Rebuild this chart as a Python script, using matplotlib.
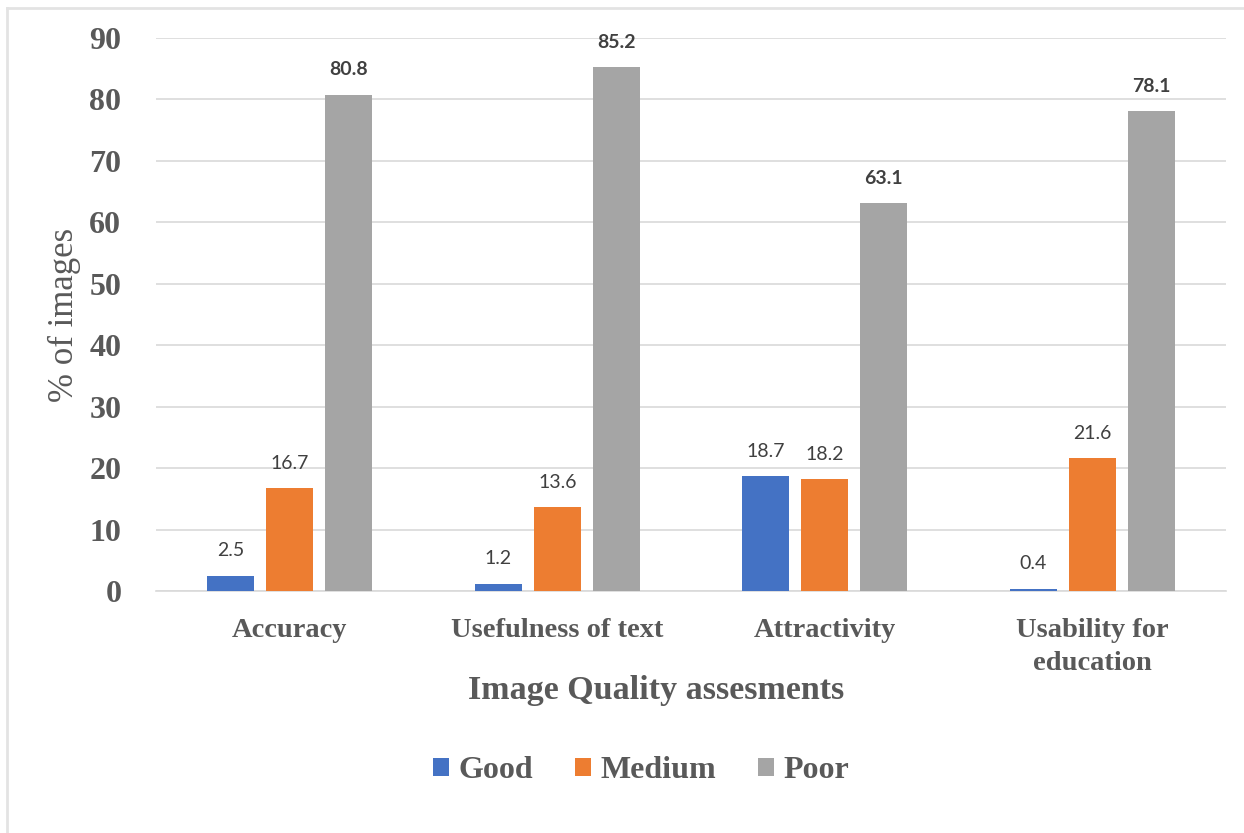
import matplotlib
matplotlib.use("Agg")
import matplotlib.pyplot as plt
from matplotlib.lines import Line2D
from matplotlib.patches import Patch
import numpy as np

categories = ["Accuracy", "Usefulness of text", "Attractivity", "Usability for\neducation"]
series_names = ["Good", "Medium", "Poor"]
good = [2.5, 1.2, 18.7, 0.4]
medium = [16.7, 13.6, 18.2, 21.6]
poor = [80.8, 85.2, 63.1, 78.1]
y_ticks = [0, 10, 20, 30, 40, 50, 60, 70, 80, 90]

colors = ["#4472C4", "#ED7D31", "#A5A5A5"]
text_gray = "#595959"
grid_gray = "#D9D9D9"
serif = "Liberation Serif"

W, H = 1244, 833
fig = plt.figure(figsize=(W / 100, H / 100), dpi=100)
fig.patch.set_facecolor("white")

ax = fig.add_axes([156 / W, 1 - 591 / H, (1226 - 156) / W, (591 - 38) / H])

x = np.arange(len(categories))
width = 0.176
step = 0.221
values = [good, medium, poor]
for i, (vals, col) in enumerate(zip(values, colors)):
    xs = x + (i - 1) * step
    bars = ax.bar(xs, vals, width=width, color=col, zorder=3)
    for b, v in zip(bars, vals):
        ax.annotate(f"{v:.1f}", (b.get_x() + b.get_width() / 2, v),
                    xytext=(0, 18), textcoords="offset points",
                    ha="center", va="center", fontsize=14,
                    family="Lato", color="#404040",
                    fontweight="bold" if i == 2 else "normal")

ax.set_xlim(-0.5, len(categories) - 0.5)
ax.set_ylim(0, 90)
ax.set_yticks(y_ticks)
ax.set_yticklabels([str(t) for t in y_ticks], family=serif, fontsize=23,
                   fontweight="bold", color=text_gray)
ax.set_xticks(x)
ax.set_xticklabels(categories, family=serif, fontsize=20.5, fontweight="bold",
                   color=text_gray, linespacing=1.4)
ax.tick_params(axis="y", length=0, pad=25)
ax.tick_params(axis="x", length=0, pad=19.5)
ax.yaxis.grid(True, color=grid_gray, linewidth=1.2, zorder=0)
ax.set_axisbelow(True)
for s in ["top", "right", "left"]:
    ax.spines[s].set_visible(False)
ax.spines["bottom"].set_color(grid_gray)
ax.spines["bottom"].set_linewidth(1.2)

ax.set_ylabel("% of images", family=serif, fontsize=25, color=text_gray,
              labelpad=6)

fig.text(656 / W, 1 - 691 / H, "Image Quality assesments", family=serif,
         fontsize=24.5, fontweight="bold", color=text_gray, ha="center",
         va="center")

handles = [Patch(facecolor=c, edgecolor="none") for c in colors]
leg = fig.legend(handles, series_names, loc="center",
                 bbox_to_anchor=(641 / W, 1 - 771 / H), ncol=3, frameon=False,
                 prop={"family": serif, "size": 23, "weight": "bold"},
                 handlelength=0.5, handleheight=0.5, handletextpad=0.3,
                 columnspacing=1.3)
for t in leg.get_texts():
    t.set_color(text_gray)

# light frame along the top and left edges
fig.add_artist(Line2D([7 / W, 7 / W], [0, 1 - 8 / H], transform=fig.transFigure,
                      color="#E3E3E3", linewidth=2))
fig.add_artist(Line2D([7 / W, 1], [1 - 8 / H, 1 - 8 / H], transform=fig.transFigure,
                      color="#E3E3E3", linewidth=2))

fig.savefig("out.png", dpi=100, facecolor="white")
